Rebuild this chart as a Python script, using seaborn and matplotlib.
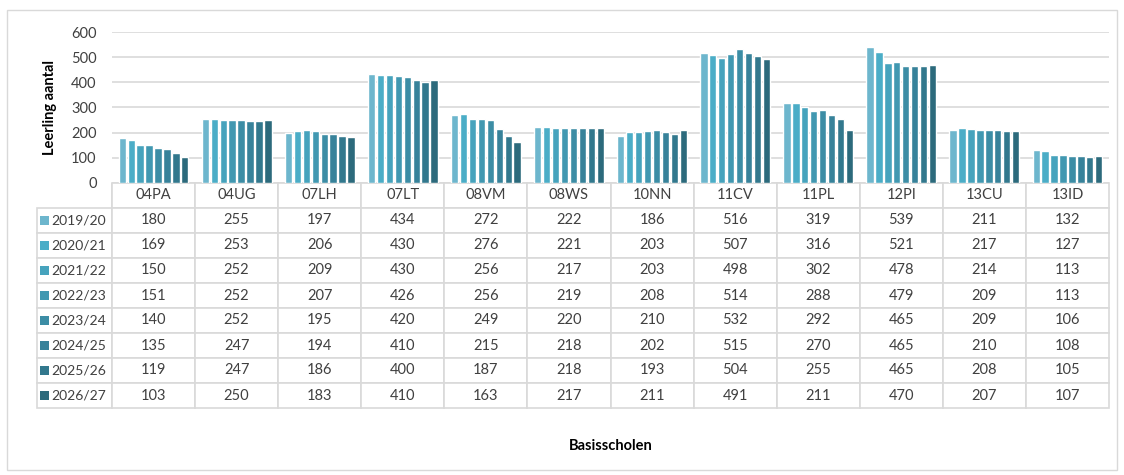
#!/usr/bin/env python3

import pandas as pd
import seaborn as sns
import matplotlib.pyplot as plt
from matplotlib.patches import Rectangle

schools = ["04PA", "04UG", "07LH", "07LT", "08VM", "08WS",
           "10NN", "11CV", "11PL", "12PI", "13CU", "13ID"]
years = ["2019/20", "2020/21", "2021/22", "2022/23",
         "2023/24", "2024/25", "2025/26", "2026/27"]

y2019 = [180, 255, 197, 434, 272, 222, 186, 516, 319, 539, 211, 132]
y2020 = [169, 253, 206, 430, 276, 221, 203, 507, 316, 521, 217, 127]
y2021 = [150, 252, 209, 430, 256, 217, 203, 498, 302, 478, 214, 113]
y2022 = [151, 252, 207, 426, 256, 219, 208, 514, 288, 479, 209, 113]
y2023 = [140, 252, 195, 420, 249, 220, 210, 532, 292, 465, 209, 106]
y2024 = [135, 247, 194, 410, 215, 218, 202, 515, 270, 465, 210, 108]
y2025 = [119, 247, 186, 400, 187, 218, 193, 504, 255, 465, 208, 105]
y2026 = [103, 250, 183, 410, 163, 217, 211, 491, 211, 470, 207, 107]
series = [y2019, y2020, y2021, y2022, y2023, y2024, y2025, y2026]

colors = ["#6DB6CD", "#4BADC7", "#46A3BD", "#4198B1",
          "#3C8DA5", "#37829A", "#32788D", "#2C6A7C"]

rows = []
for year, vals in zip(years, series):
    for school, v in zip(schools, vals):
        rows.append({"school": school, "year": year, "n": v})
df = pd.DataFrame(rows)

sns.set_theme(style="white")
plt.rcParams["font.family"] = ["Lato", "DejaVu Sans"]
txt = "#404040"
grid = "#D9D9D9"
fs = 10.5

W, H = 1124, 475
fig = plt.figure(figsize=(W / 100, H / 100), dpi=100)

# axes in pixel terms: left 112, right 1109, top 32 (=600), bottom 183 (=0)
x0, x1, ytop, ybot = 112, 1109, 32, 183
ax = fig.add_axes([x0 / W, 1 - ybot / H, (x1 - x0) / W, (ybot - ytop) / H])

sns.barplot(data=df, x="school", y="n", hue="year", palette=colors,
            width=0.86, gap=0.18, ax=ax, legend=False, saturation=1)

ax.set_ylim(0, 600)
ax.set_yticks(range(0, 601, 100))
ax.yaxis.grid(True, color=grid, linewidth=1.2)
ax.set_axisbelow(True)
for s in ax.spines.values():
    s.set_visible(False)
ax.tick_params(axis="y", labelsize=fs, colors=txt, length=0, pad=11)
ax.set_xticks([])
ax.set_xlabel("")
ax.set_ylabel("Leerling aantal", fontsize=fs, fontweight="bold",
              color="black", labelpad=10)

# data table below the axes, first column is for the year labels
tab_left, tab_bot = 37, 408
axh = ybot - ytop
axw = x1 - x0
cell_text = [[""] + [str(v) for v in vals] for vals in series]
lab_w = (x0 - tab_left) / (x1 - tab_left)
col_w = [lab_w] + [(1 - lab_w) / len(schools)] * len(schools)
tab = ax.table(cellText=cell_text, colLabels=[""] + schools,
               colWidths=col_w, cellLoc="center",
               bbox=[(tab_left - x0) / axw, -(tab_bot - ybot) / axh,
                     (x1 - tab_left) / axw, (tab_bot - ybot) / axh])
tab.set_clip_on(False)
tab.auto_set_font_size(False)
tab.set_fontsize(fs)
for (r, c), cell in tab.get_celld().items():
    cell.set_clip_on(False)
    cell.set_edgecolor(grid)
    cell.set_linewidth(1.2)
    cell.get_text().set_color(txt)
    if r == 0 and c == 0:
        cell.visible_edges = "R"

# legend keys and year labels in the first column
for i, (col, year) in enumerate(zip(colors, years)):
    yp = 208 + 25 * i + 12.5
    fig.patches.append(Rectangle((40 / W, 1 - (yp + 4.5) / H), 9 / W, 9 / H,
                                 transform=fig.transFigure,
                                 facecolor=col, edgecolor="none"))
    fig.text(51 / W, 1 - yp / H, year, ha="left", va="center",
             fontsize=10, color=txt)

fig.text((x0 + x1) / 2 / W, 1 - 446 / H, "Basisscholen", ha="center",
         va="center", fontsize=fs, fontweight="bold", color="black")

fig.patches.append(Rectangle((7 / W, 1 - 470 / H), 1110 / W, 460 / H,
                             transform=fig.transFigure, fill=False,
                             edgecolor=grid, linewidth=1))

fig.savefig("out.png", dpi=100)
plt.close()
